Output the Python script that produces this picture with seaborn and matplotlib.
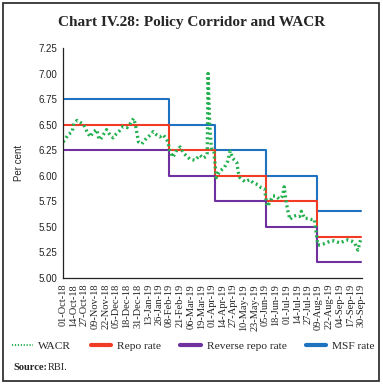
import matplotlib
matplotlib.use("Agg")
import matplotlib.pyplot as plt
import matplotlib.dates as mdates
from matplotlib.patches import Rectangle
from matplotlib.ticker import FormatStrFormatter, FixedLocator
import seaborn as sns
import pandas as pd
import numpy as np

# ---------------- data ----------------
wacr_days = [0, 2, 6, 11, 13, 17, 21, 25, 29, 33, 37, 41, 43, 45, 49, 53, 57, 61, 65, 69,
             73, 78, 82, 86, 88, 90, 92, 96, 100, 104, 108, 110, 114, 118, 122, 126, 128,
             130, 134, 138, 143, 147, 151, 155, 161, 167, 171, 175, 176, 177, 179, 181, 184,
             187, 191, 197, 201, 204, 207, 212, 214, 216, 222, 228, 232, 238, 242, 246,
             249, 252, 256, 260, 264, 268, 270, 272, 274, 277, 281, 285, 289, 291, 295,
             299, 303, 307, 311, 315, 321, 327, 331, 338, 344, 348, 352, 356, 360, 364]
wacr_values = [6.33, 6.35, 6.40, 6.43, 6.51, 6.54, 6.52, 6.50, 6.43, 6.38, 6.43, 6.45, 6.38,
               6.35, 6.40, 6.45, 6.40, 6.37, 6.41, 6.44, 6.48, 6.47, 6.51, 6.56, 6.51, 6.42,
               6.33, 6.31, 6.35, 6.38, 6.41, 6.43, 6.40, 6.38, 6.40, 6.36, 6.33,
               6.25, 6.18, 6.24, 6.28, 6.22, 6.19, 6.16, 6.15, 6.20, 6.17, 6.19, 6.22, 7.00,
               6.50, 6.27, 6.25,
               5.98, 6.04, 6.08, 6.14, 6.24, 6.17, 6.13, 6.03, 5.98, 5.94, 5.96, 5.93, 5.91,
               5.88, 5.87,
               5.70, 5.73, 5.80, 5.80, 5.77, 5.80, 5.89, 5.77, 5.67, 5.57, 5.60, 5.61, 5.60,
               5.65, 5.58, 5.58, 5.57, 5.57,
               5.32, 5.32, 5.34, 5.36, 5.36, 5.34, 5.36, 5.37, 5.36, 5.34, 5.27, 5.39]

policy_dates = ["2018-10-01", "2019-02-07", "2019-04-04", "2019-06-06", "2019-08-07", "2019-09-30"]
repo_rate = [6.50, 6.25, 6.00, 5.75, 5.40, 5.40]
reverse_repo_rate = [6.25, 6.00, 5.75, 5.50, 5.15, 5.15]
msf_rate = [6.75, 6.50, 6.25, 6.00, 5.65, 5.65]

start = pd.Timestamp("2018-10-01")
wacr_dates = [start + pd.Timedelta(days=d) for d in wacr_days]
tick_dates = pd.date_range("2018-10-01", "2019-09-30", freq="13D")

wacr_df = pd.DataFrame({"date": wacr_dates, "value": wacr_values})
pol_df = pd.DataFrame({"date": pd.to_datetime(policy_dates), "repo": repo_rate,
                       "rev": reverse_repo_rate, "msf": msf_rate})

# ---------------- style ----------------
sns.set_style("white")
plt.rcParams["font.family"] = ["Liberation Serif", "DejaVu Serif"]

fig = plt.figure(figsize=(3.83, 3.84), dpi=100)
ax = fig.add_axes([0.165, 0.277, 0.780, 0.598])

green = "#22b04e"
red = "#f23b24"
purple = "#7030a0"
blue = "#1f72c0"

sns.lineplot(data=pol_df, x="date", y="msf", ax=ax, color=blue, lw=1.5,
             drawstyle="steps-post", label="MSF rate")
sns.lineplot(data=pol_df, x="date", y="repo", ax=ax, color=red, lw=1.5,
             drawstyle="steps-post", label="Repo rate")
sns.lineplot(data=pol_df, x="date", y="rev", ax=ax, color=purple, lw=1.5,
             drawstyle="steps-post", label="Reverse repo rate")
sns.lineplot(data=wacr_df, x="date", y="value", ax=ax, color=green, lw=2.4,
             linestyle=(0, (0.6, 0.9)), dash_capstyle="butt", label="WACR")

ax.set_xlim(start, pd.Timestamp("2019-09-30") + pd.Timedelta(days=1))
ax.set_ylim(5.0, 7.25)
ax.set_yticks(np.arange(5.0, 7.26, 0.25))
ax.yaxis.set_major_formatter(FormatStrFormatter("%.2f"))
ax.xaxis.set_major_locator(FixedLocator(mdates.date2num(tick_dates)))
ax.xaxis.set_major_formatter(mdates.DateFormatter("%d-%b-%y"))
for lab in ax.get_xticklabels():
    lab.set_rotation(90)
    lab.set_fontsize(7.5)
    lab.set_family("Liberation Serif")
for lab in ax.get_yticklabels():
    lab.set_fontsize(7)
    lab.set_family("Liberation Sans")
ax.tick_params(axis="both", direction="out", length=3, width=0.8, pad=1.5, colors="#222222")
ax.set_xlabel("")
ax.set_ylabel("Per cent", fontsize=7, family="Liberation Sans", labelpad=10)
for s in ["top", "right"]:
    ax.spines[s].set_visible(False)
for s in ["left", "bottom"]:
    ax.spines[s].set_color("#222222")
    ax.spines[s].set_linewidth(0.9)

ax.get_legend().remove()
h, l = ax.get_legend_handles_labels()
order = ["WACR", "Repo rate", "Reverse repo rate", "MSF rate"]
hh = [h[l.index(name)] for name in order]
leg = fig.legend(hh, order, loc="lower left", bbox_to_anchor=(0.02, 0.075, 0.97, 0.05),
                 mode="expand", ncol=4, frameon=False, fontsize=8.2, handlelength=1.8,
                 handletextpad=0.5, borderaxespad=0)
for lh in leg.get_lines():
    if lh.get_label() != "WACR":
        lh.set_linewidth(3)
    else:
        lh.set_linewidth(1.4)

fig.text(0.5, 0.942, "Chart IV.28: Policy Corridor and WACR", ha="center", va="center",
         fontsize=11, fontweight="bold")
fig.text(0.035, 0.042, "Source:", ha="left", va="center", fontsize=7.5, fontweight="bold")
fig.text(0.125, 0.042, "RBI.", ha="left", va="center", fontsize=7.5)

fig.patches.append(Rectangle((0.008, 0.008), 0.982, 0.984, transform=fig.transFigure,
                             fill=False, edgecolor="#222222", linewidth=1.2))

fig.savefig("out.png", dpi=100)
